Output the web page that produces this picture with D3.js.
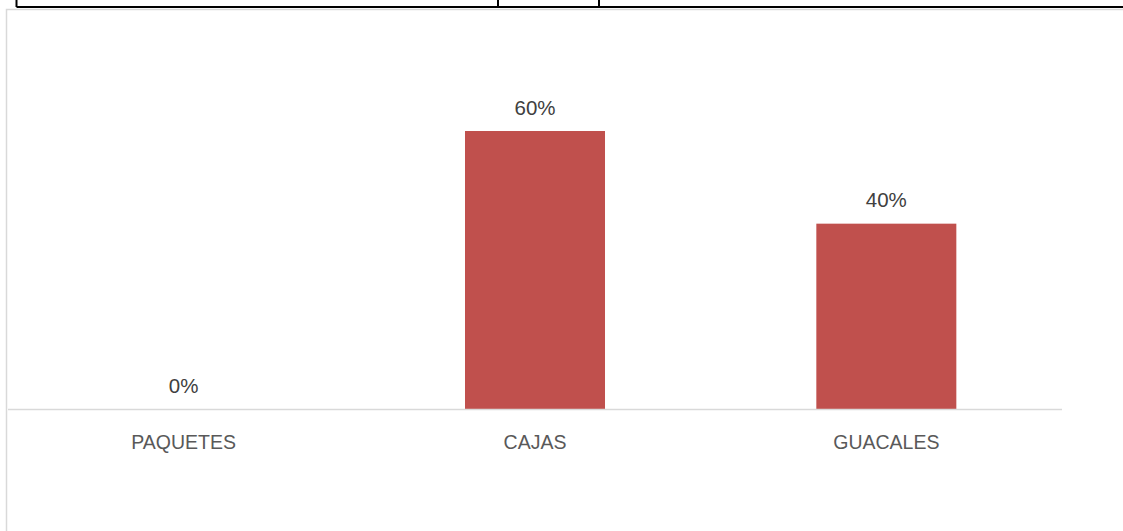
<!DOCTYPE html>
<html>
<head>
<meta charset="utf-8">
<script src="https://cdn.jsdelivr.net/npm/d3@7"></script>
<style>
  html, body { margin: 0; padding: 0; background: #ffffff; }
  svg { display: block; }
</style>
</head>
<body>
<svg id="chart" width="1123" height="531"></svg>
<script>
const categories = ["PAQUETES", "CAJAS", "GUACALES"];
const values = [0, 60, 40];
const valueLabels = ["0%", "60%", "40%"];

const svg = d3.select("#chart");
const W = 1123, H = 531;

// table borders above the chart
svg.append("line").attr("x1", 16.5).attr("x2", W).attr("y1", 7).attr("y2", 7)
  .attr("stroke", "#000").attr("stroke-width", 2);
[16.5, 498, 599].forEach(x => {
  svg.append("line").attr("x1", x).attr("x2", x).attr("y1", 0).attr("y2", 7)
    .attr("stroke", "#000").attr("stroke-width", 2);
});

// chart frame (light gray)
svg.append("rect").attr("x", 6.5).attr("y", 9.5).attr("width", W + 10).attr("height", H + 10)
  .attr("fill", "none").attr("stroke", "#d9d9d9").attr("stroke-width", 1.5);

const x = d3.scaleBand().domain(categories).range([8, 1062])
  .paddingInner(0.6015).paddingOuter(0.30075);
const y = d3.scaleLinear().domain([0, 60]).range([409, 131]);

svg.selectAll("rect.bar").data(values).enter().append("rect")
  .attr("class", "bar")
  .attr("x", (d, i) => x(categories[i]))
  .attr("width", x.bandwidth())
  .attr("y", d => y(d))
  .attr("height", d => y(0) - y(d))
  .attr("fill", "#C0504D");

// axis baseline
svg.append("line").attr("x1", 8).attr("x2", 1062).attr("y1", y(0) + 0.5).attr("y2", y(0) + 0.5)
  .attr("stroke", "#d9d9d9").attr("stroke-width", 1.5);

const font = "'Liberation Sans', Arial, sans-serif";

svg.selectAll("text.val").data(values).enter().append("text")
  .attr("class", "val")
  .attr("x", (d, i) => x(categories[i]) + x.bandwidth() / 2)
  .attr("y", d => y(d) - 16.5)
  .attr("text-anchor", "middle")
  .attr("font-family", font).attr("font-size", 20.5)
  .attr("fill", "#404040")
  .text((d, i) => valueLabels[i]);

const xAxis = svg.append("g").attr("transform", `translate(0, ${y(0)})`)
  .call(d3.axisBottom(x).tickSize(0).tickPadding(0));
xAxis.select(".domain").remove();
xAxis.selectAll("text")
  .attr("y", 40).attr("dy", 0)
  .attr("font-family", font).attr("font-size", 19.5)
  .attr("fill", "#595959");
</script>
</body>
</html>
